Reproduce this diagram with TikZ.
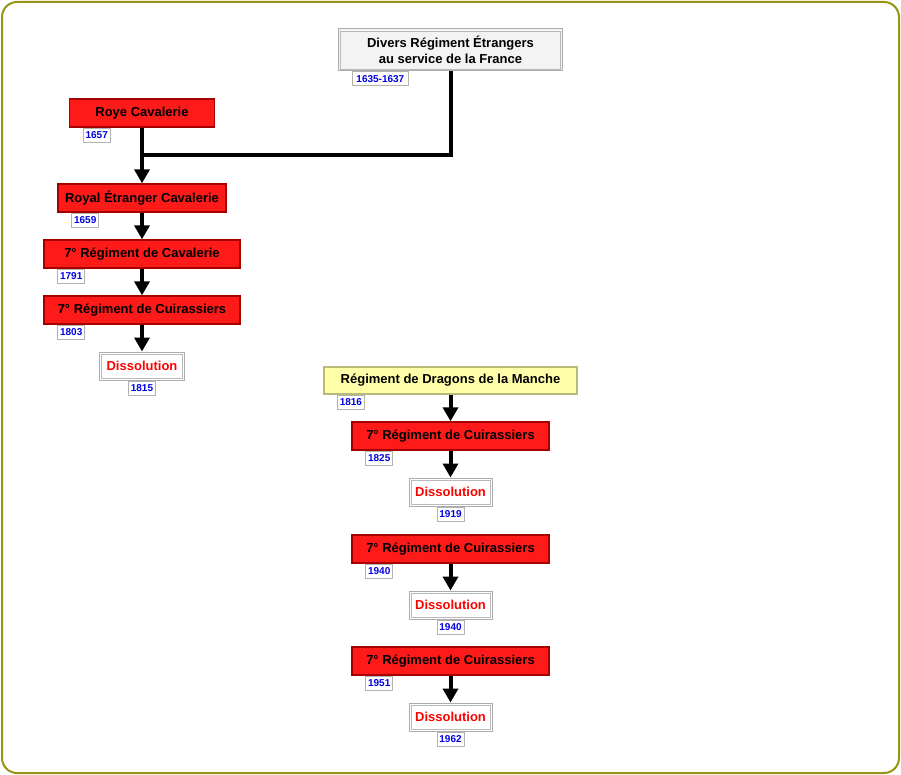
\documentclass[tikz,border=0pt]{standalone}
\usepackage{fontspec}
\setmainfont{Liberation Sans}
\usetikzlibrary{arrows.meta}
\definecolor{frame}{RGB}{150,150,20}
\definecolor{redfill}{RGB}{255,26,26}
\definecolor{redline}{RGB}{165,0,0}
\definecolor{yelfill}{RGB}{255,255,170}
\definecolor{yelline}{RGB}{185,185,120}
\definecolor{yearblue}{RGB}{0,0,230}
\definecolor{greyfill}{RGB}{243,243,243}
\tikzset{
  redbox/.style={draw=redline, line width=1.4pt, fill=redfill, minimum height=28pt, inner sep=0pt, font=\fontsize{13}{16}\selectfont\bfseries, text=black},
  dissbox/.style={draw=gray!65, line width=1pt, fill=white, minimum height=28pt, inner sep=0pt, font=\fontsize{13}{16}\selectfont\bfseries, text=red},
  topbox/.style={draw=gray!65, line width=1pt, fill=greyfill, minimum height=42pt, inner sep=0pt, align=center, font=\fontsize{13}{16}\selectfont\bfseries, text=black},
  innerline/.style={draw=gray!55, line width=0.8pt},
  yelbox/.style={draw=yelline, line width=2pt, fill=yelfill, minimum height=27pt, inner sep=0pt, font=\fontsize{13}{16}\selectfont\bfseries, text=black},
  yearbox/.style={draw=gray!60, line width=0.8pt, fill=white, minimum height=14pt, minimum width=27pt, inner sep=0pt, font=\fontsize{10}{12}\selectfont\bfseries, text=yearblue},
  conn/.style={line width=4pt, black},
  arr/.style={line width=4pt, black, -{Triangle[length=14pt,width=15pt]}},
}
\begin{document}
\begin{tikzpicture}[x=1pt,y=-1pt]
\useasboundingbox (0,0) rectangle (901,775);
\draw[frame, line width=2pt, rounded corners=15pt, fill=white] (2,2) rectangle (899,773);

% left column
\node[redbox, minimum width=145pt] (roye) at (142,113) {Roye Cavalerie};
\node[redbox, minimum width=168pt] (royal) at (142,198) {Royal Étranger Cavalerie};
\node[redbox, minimum width=196pt] (cav) at (142,254) {7° Régiment de Cavalerie};
\node[redbox, minimum width=196pt] (cuira) at (142,310) {7° Régiment de Cuirassiers};
\node[dissbox, minimum width=85pt] (dissa) at (142,366) {Dissolution};

% right column
\node[topbox, minimum width=224pt] (top) at (450.5,50) {Divers Régiment Étrangers\\au service de la France};
\node[yelbox, minimum width=253pt] (drag) at (450.5,380) {Régiment de Dragons de la Manche};
\node[redbox, minimum width=197pt] (cuirb) at (450.5,436) {7° Régiment de Cuirassiers};
\node[dissbox, minimum width=83pt] (dissb) at (450.5,492) {Dissolution};
\node[redbox, minimum width=197pt] (cuirc) at (450.5,549) {7° Régiment de Cuirassiers};
\node[dissbox, minimum width=83pt] (dissc) at (450.5,605) {Dissolution};
\node[redbox, minimum width=197pt] (cuird) at (450.5,661) {7° Régiment de Cuirassiers};
\node[dissbox, minimum width=83pt] (dissd) at (450.5,717) {Dissolution};

% inner lines of double borders
\foreach \n in {top,dissa,dissb,dissc,dissd}
  \draw[innerline] ([shift={(2.5pt,-2.5pt)}]\n.north west) rectangle ([shift={(-2.5pt,2.5pt)}]\n.south east);

% connectors
\coordinate (j) at (142,155);
\draw[conn] (top.south) |- (j);
\draw[arr] (roye.south) -- (royal.north);
\draw[arr] (royal.south) -- (cav.north);
\draw[arr] (cav.south) -- (cuira.north);
\draw[arr] (cuira.south) -- (dissa.north);
\draw[arr] (drag.south) -- (cuirb.north);
\draw[arr] (cuirb.south) -- (dissb.north);
\draw[arr] (cuirc.south) -- (dissc.north);
\draw[arr] (cuird.south) -- (dissd.north);

% year labels
\node[yearbox, minimum width=56pt, anchor=north west] (ytop) at ([xshift=14pt]top.south west) {1635-1637};
\node[yearbox, anchor=north west] (yroye) at ([xshift=14pt]roye.south west) {1657};
\node[yearbox, anchor=north west] (yroyal) at ([xshift=14pt]royal.south west) {1659};
\node[yearbox, anchor=north west] (ycav) at ([xshift=14pt]cav.south west) {1791};
\node[yearbox, anchor=north west] (ycuira) at ([xshift=14pt]cuira.south west) {1803};
\node[yearbox, anchor=north] (ydissa) at (dissa.south) {1815};
\node[yearbox, anchor=north west] (ydrag) at ([xshift=14pt]drag.south west) {1816};
\node[yearbox, anchor=north west] (ycuirb) at ([xshift=14pt]cuirb.south west) {1825};
\node[yearbox, anchor=north] (ydissb) at (dissb.south) {1919};
\node[yearbox, anchor=north west] (ycuirc) at ([xshift=14pt]cuirc.south west) {1940};
\node[yearbox, anchor=north] (ydissc) at (dissc.south) {1940};
\node[yearbox, anchor=north west] (ycuird) at ([xshift=14pt]cuird.south west) {1951};
\node[yearbox, anchor=north] (ydissd) at (dissd.south) {1962};
\end{tikzpicture}
\end{document}
